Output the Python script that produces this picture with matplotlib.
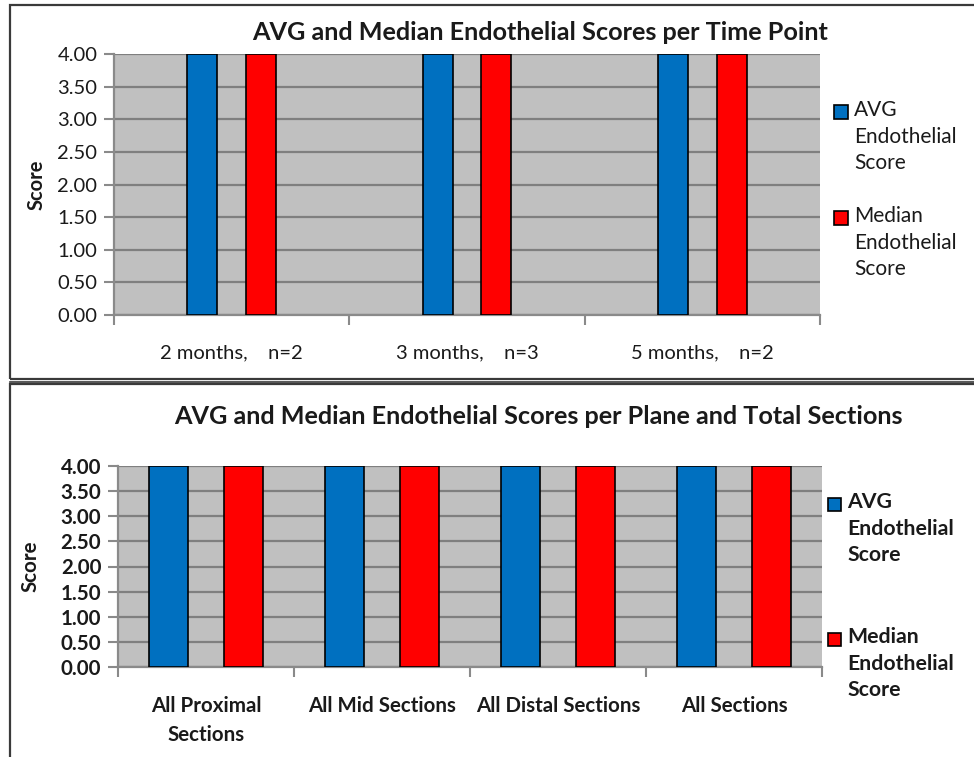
import matplotlib
matplotlib.use("Agg")
import matplotlib.pyplot as plt
from matplotlib.patches import Rectangle
from matplotlib.lines import Line2D
import numpy as np

plt.rcParams['font.family'] = ['Lato', 'DejaVu Sans']

# Data
time_points = ["2 months,    n=2", "3 months,    n=3", "5 months,    n=2"]
time_avg = [4.0, 4.0, 4.0]
time_median = [4.0, 4.0, 4.0]

plane_sections = ["All Proximal\nSections", "All Mid Sections", "All Distal Sections", "All Sections"]
plane_avg = [4.0, 4.0, 4.0, 4.0]
plane_median = [4.0, 4.0, 4.0, 4.0]

series_names = ["AVG\nEndothelial\nScore", "Median\nEndothelial\nScore"]
y_ticks = [0.0, 0.5, 1.0, 1.5, 2.0, 2.5, 3.0, 3.5, 4.0]

BLUE = "#0070C0"
RED = "#FF0000"
PLOT_BG = "#C0C0C0"
GRID = "#7F7F7F"
TEXT = "#1a1a1a"

W, H = 974, 757
fig = plt.figure(figsize=(W / 100, H / 100), dpi=100)
fig.patch.set_facecolor("white")


def rect(x0, y0, x1, y1):
    return [x0 / W, 1 - y1 / H, (x1 - x0) / W, (y1 - y0) / H]


def fx(x):
    return x / W


def fy(y):
    return 1 - y / H


# Panel frames (running off the right and bottom edges of the page)
for (x0, y0, x1, y1) in [(10, 5, 985, 379), (10, 384, 985, 770)]:
    fig.add_artist(Rectangle((fx(x0), fy(y1)), fx(x1) - fx(x0), fy(y0) - fy(y1),
                             transform=fig.transFigure, fill=False,
                             edgecolor="#3a3a3a", linewidth=1.6, clip_on=False))
fig.add_artist(Line2D([fx(10), fx(985)], [fy(381.5), fy(381.5)], transform=fig.transFigure,
                      color="#3a3a3a", linewidth=1.2))


def draw_panel(ax, cats, avg, med, width, offset, bold, fontsize):
    n = len(cats)
    x = np.arange(n)
    weight = "bold" if bold else "normal"
    ax.set_facecolor(PLOT_BG)
    ax.set_xlim(-0.5, n - 0.5)
    ax.set_ylim(0, 4)
    ax.set_yticks(y_ticks)
    ax.set_yticklabels([f"{v:.2f}" for v in y_ticks], fontsize=fontsize, fontweight=weight,
                       color=TEXT)
    ax.yaxis.grid(True, color=GRID, linewidth=1.6)
    ax.set_axisbelow(True)
    ax.bar(x - offset, avg, width, color=BLUE, edgecolor="black", linewidth=1.2, zorder=3)
    ax.bar(x + offset, med, width, color=RED, edgecolor="black", linewidth=1.2, zorder=3)
    ax.set_xticks(x)
    ax.set_xticklabels(cats, fontsize=fontsize, fontweight=weight, color=TEXT,
                       linespacing=1.55)
    ax.set_xticks(np.arange(n + 1) - 0.5, minor=True)
    ax.tick_params(axis="x", which="major", length=0, pad=21)
    ax.tick_params(axis="x", which="minor", length=7, color="#8a8a8a", width=1.5)
    ax.tick_params(axis="y", length=7, color="#8a8a8a", width=1.5, pad=5)
    for s in ["top", "right"]:
        ax.spines[s].set_visible(False)
    for s in ["left", "bottom"]:
        ax.spines[s].set_color("#8a8a8a")
        ax.spines[s].set_linewidth(1.6)
    ax.set_ylabel("Score", fontsize=fontsize, fontweight="bold", color=TEXT)


ax1 = fig.add_axes(rect(114, 54, 820, 315))
draw_panel(ax1, time_points, time_avg, time_median, 0.128, 0.125, False, 14.5)
ax1.yaxis.set_label_coords(-0.095, 0.5)
fig.text(fx(540), fy(32), "AVG and Median Endothelial Scores per Time Point",
         ha="center", va="center", fontsize=18.2, fontweight="bold", color=TEXT)

ax2 = fig.add_axes(rect(118, 466, 822, 667))
draw_panel(ax2, plane_sections, plane_avg, plane_median, 0.227, 0.213, True, 14.8)
ax2.yaxis.set_label_coords(-0.11, 0.5)
fig.text(fx(538), fy(417), "AVG and Median Endothelial Scores per Plane and Total Sections",
         ha="center", va="center", fontsize=18.2, fontweight="bold", color=TEXT)


def legend(x_box, y_first, y_second, size, bold, fontsize):
    weight = "bold" if bold else "normal"
    for y, color, name in [(y_first, BLUE, series_names[0]), (y_second, RED, series_names[1])]:
        fig.add_artist(Rectangle((fx(x_box), fy(y + size / 2)), size / W, size / H,
                                 transform=fig.transFigure, facecolor=color,
                                 edgecolor="black", linewidth=1.2))
        fig.text(fx(x_box + size + 6), fy(y - 12), name, ha="left", va="top",
                 fontsize=fontsize, fontweight=weight, color=TEXT, linespacing=1.42)


legend(834, 112, 218, 14, False, 15)
legend(828, 504, 639, 13, True, 15.3)

fig.savefig("out.png", dpi=100)
